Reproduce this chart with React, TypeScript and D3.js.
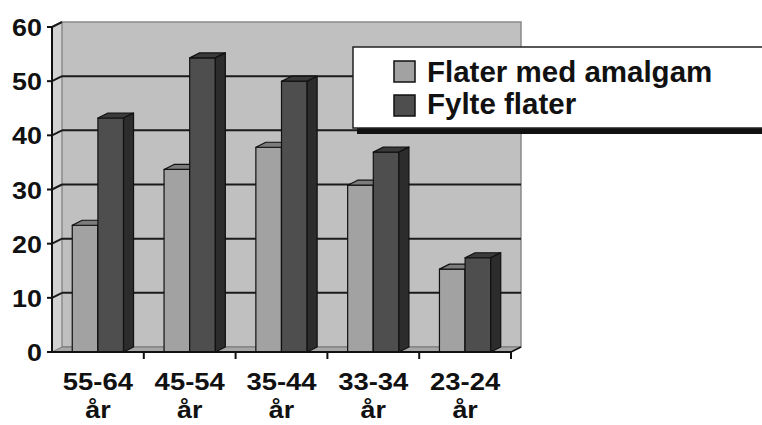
import React from "react";
import * as d3 from "d3";

// Age groups along the x axis
const categories = ["55-64", "45-54", "35-44", "33-34", "23-24"];
const categorySuffix = "år";

// Two series, one value per age group
const seriesNames = ["Flater med amalgam", "Fylte flater"];
const amalgamValues = [23.4, 33.7, 37.8, 30.8, 15.3];
const filledValues = [43.2, 54.3, 50, 36.9, 17.4];

const yTicks = [0, 10, 20, 30, 40, 50, 60];

const W = 762;
const H = 425;
const DX = 10; // depth offset of the 3-D box
const DY = -5;
const FONT = "'Liberation Sans', Arial, Helvetica, sans-serif";

const faceColors = [
  { front: "#a2a2a2", top: "#7c7c7c", side: "#6a6a6a" },
  { front: "#4e4e4e", top: "#3a3a3a", side: "#2c2c2c" },
];

export default function App() {
  const x = d3.scaleBand<string>().domain(categories).range([52, 511]).paddingInner(0).paddingOuter(0);
  const inner = d3
    .scaleBand<number>()
    .domain([0, 1])
    .range([0, x.bandwidth()])
    .paddingInner(0)
    .paddingOuter(0.79);
  const y = d3.scaleLinear().domain([0, 60]).range([352, 27]);

  const x0 = x.range()[0];
  const x1 = x.range()[1];
  const yb = y(0);
  const yt = y(60);
  const series = [amalgamValues, filledValues];

  const bars: React.ReactNode[] = [];
  categories.forEach((c, ci) => {
    series.forEach((vals, si) => {
      const bx = (x(c) as number) + (inner(si) as number);
      const w = inner.bandwidth();
      const by = y(vals[ci]);
      const col = faceColors[si];
      bars.push(
        <g key={`${c}-${si}`} stroke="#111" strokeWidth={1.2} strokeLinejoin="round">
          <rect x={bx} y={by} width={w} height={yb - by} fill={col.front} />
          <polygon
            points={`${bx},${by} ${bx + DX},${by + DY} ${bx + w + DX},${by + DY} ${bx + w},${by}`}
            fill={col.top}
          />
          <polygon
            points={`${bx + w},${by} ${bx + w + DX},${by + DY} ${bx + w + DX},${yb + DY} ${bx + w},${yb}`}
            fill={col.side}
          />
        </g>
      );
    });
  });

  const textScale = 1.12;

  return (
    <svg
      width={W}
      height={H}
      style={{ position: "absolute", left: 0, top: 0, background: "#fff" }}
      fontFamily={FONT}
      fontWeight="bold"
    >
      {/* left side wall */}
      <polygon
        points={`${x0},${yt} ${x0 + DX},${yt + DY} ${x0 + DX},${yb + DY} ${x0},${yb}`}
        fill="#d2d2d2"
      />
      {/* back wall */}
      <rect
        x={x0 + DX}
        y={yt + DY}
        width={x1 - x0}
        height={yb - yt}
        fill="#c0c0c0"
        stroke="#8a8a8a"
        strokeWidth={1.5}
      />
      {/* gridlines on back wall and side wall */}
      {yTicks
        .filter((t) => t > 0 && t < 60)
        .map((t) => (
          <g key={`g${t}`} stroke="#1a1a1a" strokeWidth={2}>
            <line x1={x0 + DX} x2={x1 + DX} y1={y(t) + DY} y2={y(t) + DY} />
            <line x1={x0} x2={x0 + DX} y1={y(t)} y2={y(t) + DY} />
          </g>
        ))}
      <line x1={x0} x2={x0 + DX} y1={yt} y2={yt + DY} stroke="#1a1a1a" strokeWidth={2} />
      {/* floor */}
      <polygon
        points={`${x0},${yb} ${x1},${yb} ${x1 + DX},${yb + DY} ${x0 + DX},${yb + DY}`}
        fill="#a6a6a6"
        stroke="#777"
        strokeWidth={1}
      />
      {bars}
      {/* y axis */}
      <line x1={x0} x2={x0} y1={yt} y2={yb} stroke="#111" strokeWidth={2} />
      {yTicks.map((t) => (
        <g key={`yt${t}`}>
          <line x1={x0 - 5} x2={x0} y1={y(t)} y2={y(t)} stroke="#111" strokeWidth={2} />
          <g transform={`translate(42,${y(t) + 9}) scale(${textScale},1)`}>
            <text textAnchor="end" fontSize={24} fill="#111">
              {t}
            </text>
          </g>
        </g>
      ))}
      {/* x axis */}
      <line x1={x0} x2={x1} y1={yb} y2={yb} stroke="#111" strokeWidth={2} />
      <line x1={x1} x2={x1 + DX} y1={yb} y2={yb + DY} stroke="#111" strokeWidth={1.5} />
      {categories.map((c) => {
        const right = (x(c) as number) + x.bandwidth();
        const cx = (x(c) as number) + x.bandwidth() / 2;
        return (
          <g key={`xt${c}`}>
            <line x1={right} x2={right} y1={yb} y2={yb + 7} stroke="#111" strokeWidth={2} />
            <g transform={`translate(${cx},390) scale(${textScale},1)`}>
              <text textAnchor="middle" fontSize={24.5} fill="#111">
                {c}
              </text>
            </g>
            <g transform={`translate(${cx},418) scale(${textScale},1)`}>
              <text textAnchor="middle" fontSize={24} fill="#111">
                {categorySuffix}
              </text>
            </g>
          </g>
        );
      })}
      {/* legend */}
      <rect x={357} y={128} width={420} height={6} fill="#111" />
      <rect x={353} y={47} width={420} height={81} fill="#fff" stroke="#222" strokeWidth={1.5} />
      {seriesNames.map((name, i) => (
        <g key={name}>
          <rect
            x={394}
            y={61 + i * 34}
            width={21}
            height={21}
            fill={faceColors[i].front}
            stroke="#111"
            strokeWidth={1.5}
          />
          <text x={427} y={81.5 + i * 32} fontSize={29.5} fill="#111">
            {name}
          </text>
        </g>
      ))}
    </svg>
  );
}
